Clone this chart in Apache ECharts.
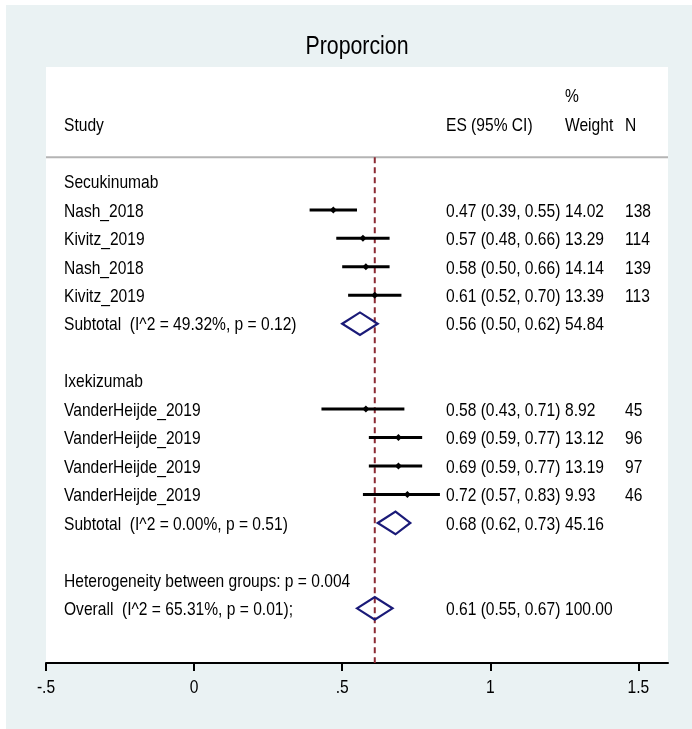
<!DOCTYPE html>
<html><head><meta charset="utf-8">
<script src="https://cdn.jsdelivr.net/npm/echarts@6/dist/echarts.min.js"></script>
<style>html,body{margin:0;padding:0;background:#fff}#c{width:692px;height:729px}</style>
</head><body><div id="c"></div>
<script>
// ---- data ----
const studyLabels = ['Secukinumab','Nash_2018','Kivitz_2019','Nash_2018','Kivitz_2019',
  'Subtotal  (I^2 = 49.32%, p = 0.12)','','Ixekizumab','VanderHeijde_2019','VanderHeijde_2019',
  'VanderHeijde_2019','VanderHeijde_2019','Subtotal  (I^2 = 0.00%, p = 0.51)','',
  'Heterogeneity between groups: p = 0.004','Overall  (I^2 = 65.31%, p = 0.01);'];
const rowKind = ['group','study','study','study','study','sub','blank','group','study','study',
  'study','study','sub','blank','note','overall'];
const esVals = [null,0.47,0.57,0.58,0.61,0.56,null,null,0.58,0.69,0.69,0.72,0.68,null,null,0.61];
const ciLow  = [null,0.39,0.48,0.50,0.52,0.50,null,null,0.43,0.59,0.59,0.57,0.62,null,null,0.55];
const ciHigh = [null,0.55,0.66,0.66,0.70,0.62,null,null,0.71,0.77,0.77,0.83,0.73,null,null,0.67];
const weights = ['','14.02','13.29','14.14','13.39','54.84','','','8.92','13.12','13.19','9.93','45.16','','','100.00'];
const nVals = ['','138','114','139','113','','','','45','96','97','46','','','',''];
const xTicks = [-0.5, 0, 0.5, 1, 1.5];
const xTickLabels = ['-.5', '0', '.5', '1', '1.5'];
const overallES = 0.61;

const FONT = '"Liberation Sans", Arial, sans-serif';
const SX = 0.82;
const chart = echarts.init(document.getElementById('c'));
const rows = studyLabels.map((l, i) => [i]);

function fmtES(i){ return esVals[i].toFixed(2) + ' (' + ciLow[i].toFixed(2) + ', ' + ciHigh[i].toFixed(2) + ')'; }
function txt(x, y, s, size, align){
  return { type: 'text', x, y, scaleX: SX, style: { text: s, font: size + 'px ' + FONT, fill: '#000', align: align || 'left', verticalAlign: 'middle' } };
}

const option = {
  backgroundColor: '#ffffff',
  animation: false,
  graphic: { elements: [
    { type: 'rect', z: -100, shape: { x: 6, y: 5, width: 686, height: 724 }, style: { fill: '#eaf2f3' } },
    { type: 'text', x: 357, y: 47, scaleX: SX, style: { text: 'Proporcion', font: '26px ' + FONT, fill: '#000', align: 'center', verticalAlign: 'middle' } }
  ]},
  grid: { left: 46, right: 24, top: 67, bottom: 66, show: true, backgroundColor: '#ffffff', borderWidth: 0 },
  xAxis: {
    type: 'value', min: -0.5, max: 1.6,
    axisLine: { show: true, onZero: false, lineStyle: { color: '#000', width: 2 } },
    axisTick: { show: true, customValues: xTicks, length: 8, lineStyle: { color: '#000', width: 2 } },
    axisLabel: { show: false },
    splitLine: { show: false }
  },
  yAxis: { type: 'value', min: -4.02, max: 16.92, inverse: true, show: false },
  series: [
    { // header + separator + reference line + tick labels
      type: 'custom', data: [[0]], silent: true, clip: false,
      renderItem: (params, api) => {
        const cs = params.coordSys;
        const ySep = api.coord([0, -0.85])[1];
        const yHead = api.coord([0, -2])[1] + 1;
        const yPct = api.coord([0, -3])[1] + 1;
        const xRef = api.coord([overallES, 0])[0];
        const yAx = cs.y + cs.height;
        const ch = [
          { type: 'line', shape: { x1: cs.x, y1: ySep, x2: cs.x + cs.width, y2: ySep }, style: { stroke: '#b4b4b4', lineWidth: 2 } },
          { type: 'line', shape: { x1: xRef, y1: ySep, x2: xRef, y2: yAx }, style: { stroke: '#8b2a33', lineWidth: 2, lineDash: [6, 4] } },
          txt(64, yHead, 'Study', 19),
          txt(446, yHead, 'ES (95% CI)', 19),
          txt(565, yPct, '%', 19),
          txt(565, yHead, 'Weight', 19),
          txt(625, yHead, 'N', 19)
        ];
        xTicks.forEach((v, j) => {
          ch.push(txt(api.coord([v, 0])[0], yAx + 25, xTickLabels[j], 19, 'center'));
        });
        return { type: 'group', children: ch };
      }
    },
    { // text columns
      type: 'custom', data: rows, silent: true,
      renderItem: (params, api) => {
        const i = api.value(0);
        const y = api.coord([0, i])[1] + 1.5;
        const ch = [];
        if (studyLabels[i]) ch.push(txt(64, y, studyLabels[i], 19));
        if (esVals[i] != null) ch.push(txt(446, y, fmtES(i), 19));
        if (weights[i]) ch.push(txt(565, y, weights[i], 19));
        if (nVals[i]) ch.push(txt(625, y, nVals[i], 19));
        return { type: 'group', children: ch };
      }
    },
    { // CIs, points, diamonds
      type: 'custom', data: rows, silent: true,
      renderItem: (params, api) => {
        const i = api.value(0);
        const k = rowKind[i];
        if (esVals[i] == null) return null;
        const pL = api.coord([ciLow[i], i]);
        const pH = api.coord([ciHigh[i], i]);
        const pE = api.coord([esVals[i], i]);
        if (k === 'study') {
          const r = 3.5;
          return { type: 'group', children: [
            { type: 'line', shape: { x1: pL[0], y1: pL[1], x2: pH[0], y2: pH[1] }, style: { stroke: '#000', lineWidth: 3 } },
            { type: 'polygon', shape: { points: [[pE[0]-r,pE[1]],[pE[0],pE[1]-r],[pE[0]+r,pE[1]],[pE[0],pE[1]+r]] }, style: { fill: '#000' } }
          ]};
        }
        const h = 11.3;
        return { type: 'polygon', shape: { points: [[pL[0],pL[1]],[pE[0],pE[1]-h],[pH[0],pH[1]],[pE[0],pE[1]+h]] },
          style: { fill: 'none', stroke: '#1a1a78', lineWidth: 2.2 } };
      }
    }
  ]
};
chart.setOption(option);
</script></body></html>
